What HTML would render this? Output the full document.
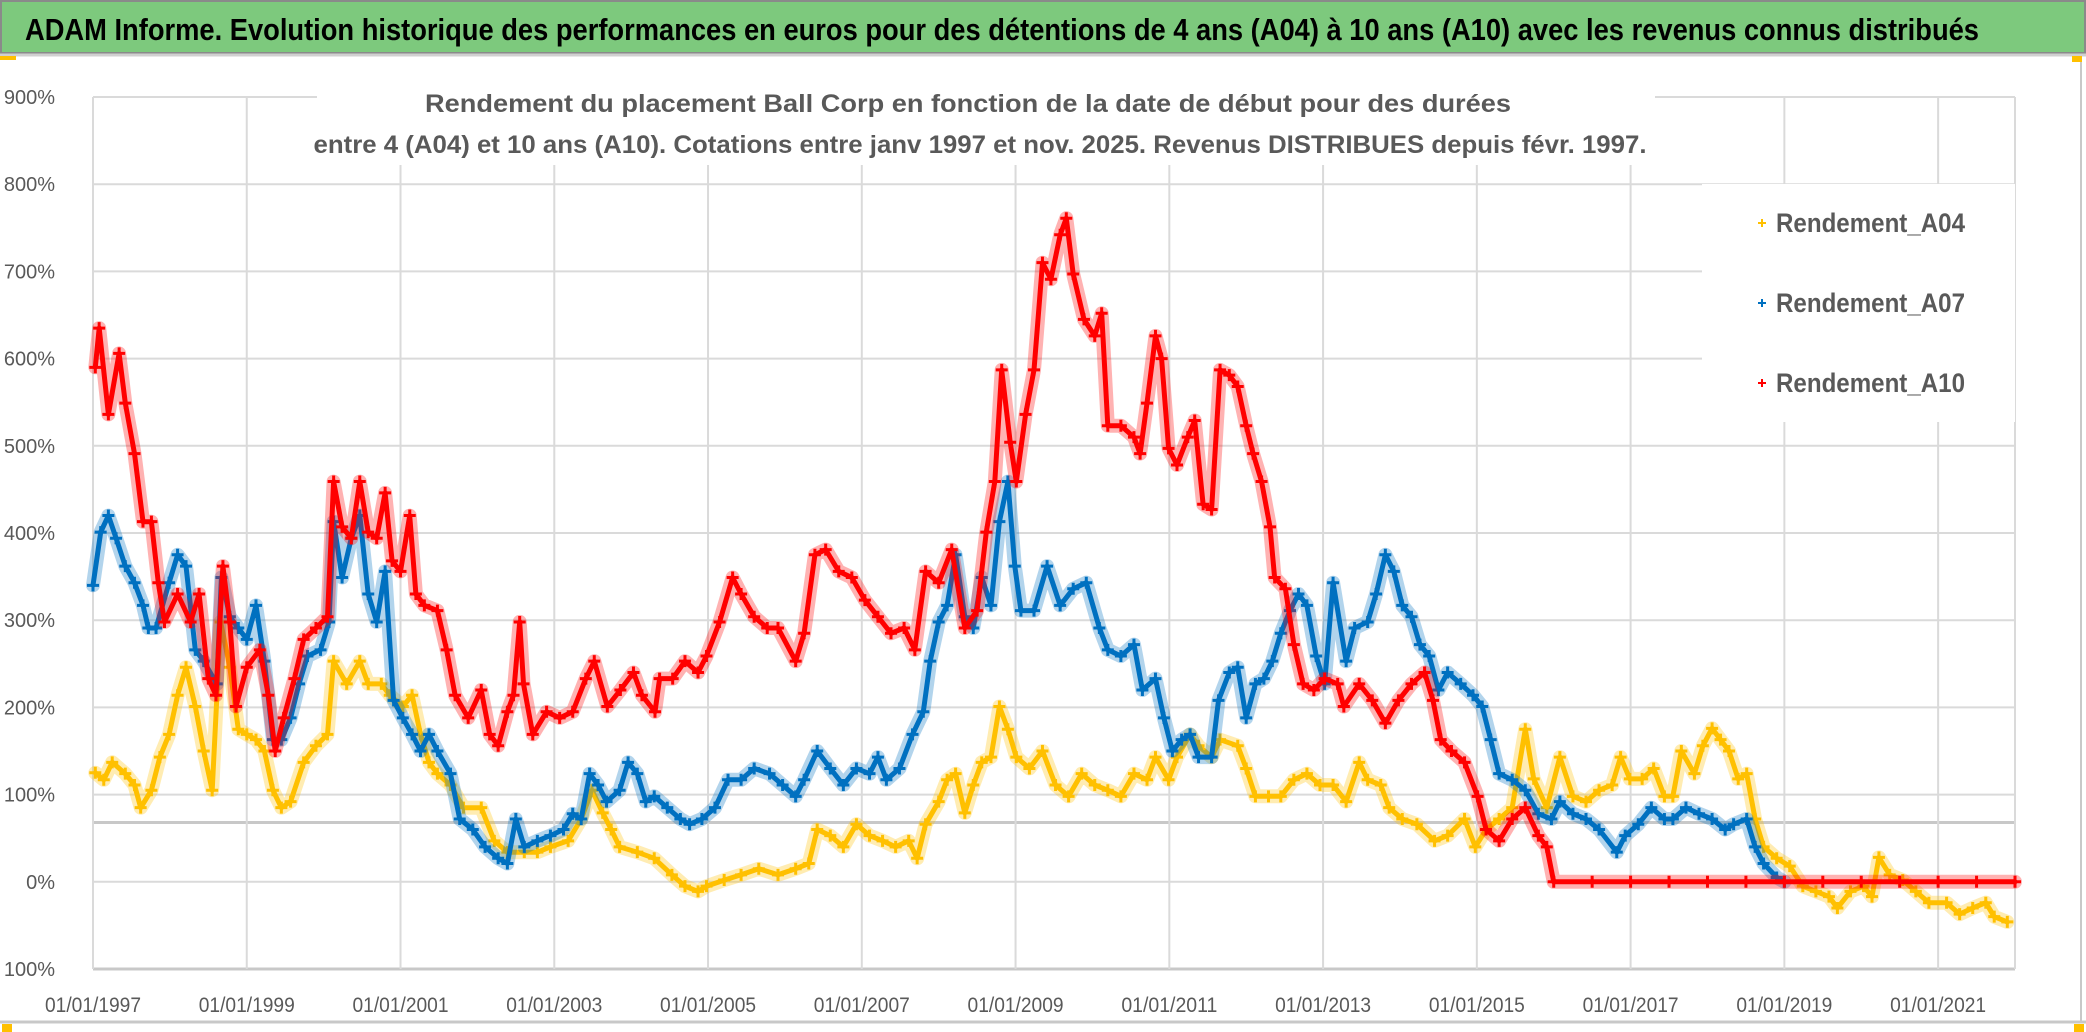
<!DOCTYPE html>
<html><head><meta charset="utf-8"><style>
html,body{margin:0;padding:0;background:#fff;}
svg{display:block;}
</style></head><body>
<svg id="chart" width="2086" height="1032" viewBox="0 0 2086 1032" xmlns="http://www.w3.org/2000/svg">
<rect x="0" y="0" width="2086" height="1032" fill="#fff"/>
<rect x="1" y="1" width="2084" height="52" fill="#7DC97D" stroke="#8a8a8a" stroke-width="2"/>
<text x="25" y="40" font-family="Liberation Sans, sans-serif" font-weight="bold" font-size="31" fill="#000" textLength="1954" lengthAdjust="spacingAndGlyphs">ADAM Informe. Evolution historique des performances en euros pour des détentions de 4 ans (A04) à 10 ans (A10) avec les revenus connus distribués</text>
<line x1="0" y1="55" x2="2086" y2="55" stroke="#d0d0d0" stroke-width="3"/>
<line x1="2081" y1="56" x2="2081" y2="1022" stroke="#c8c8c8" stroke-width="2"/>
<line x1="0" y1="1022" x2="2086" y2="1022" stroke="#c8c8c8" stroke-width="3"/>
<rect x="2072" y="56" width="10" height="6" fill="#FFC000"/>
<rect x="0" y="56" width="16" height="4" fill="#FFC000"/>
<rect x="2" y="1024" width="10" height="8" fill="#FFC000"/>
<rect x="2074" y="1024" width="10" height="8" fill="#FFC000"/>
<g id="grid"></g>
<g id="yaxis"></g>
<g id="xaxis"></g>
<g id="series"></g>
<rect x="317" y="88" width="1338" height="77" fill="#fff"/>
<text x="968" y="112" text-anchor="middle" font-family="Liberation Sans, sans-serif" font-weight="bold" font-size="25" fill="#595959" textLength="1086" lengthAdjust="spacingAndGlyphs">Rendement du placement Ball Corp en fonction de la date de début pour des durées</text>
<text x="980" y="153" text-anchor="middle" font-family="Liberation Sans, sans-serif" font-weight="bold" font-size="25" fill="#595959" textLength="1333" lengthAdjust="spacingAndGlyphs">entre 4 (A04) et 10 ans (A10). Cotations entre janv 1997 et nov. 2025. Revenus DISTRIBUES depuis févr. 1997.</text>
<g id="legend">
<rect x="1702" y="184" width="313" height="238" fill="#fff"/>
</g>
</svg>
<script>
// ---- data ----
const yTicks = [900,800,700,600,500,400,300,200,100,0,-100];
const yTickLabels = ["900%","800%","700%","600%","500%","400%","300%","200%","100%","0%","- 100%"];
const xTickYears = [1997,1999,2001,2003,2005,2007,2009,2011,2013,2015,2017,2019,2021];
const xTickLabels = ["01/01/1997","01/01/1999","01/01/2001","01/01/2003","01/01/2005","01/01/2007","01/01/2009","01/01/2011","01/01/2013","01/01/2015","01/01/2017","01/01/2019","01/01/2021"];
const seriesNames = ["Rendement_A04","Rendement_A07","Rendement_A10"];

const yearsA04 = [1997.03,1997.14,1997.25,1997.42,1997.54,1997.62,1997.76,1997.87,1997.99,1998.1,1998.21,1998.33,1998.44,1998.55,1998.66,1998.78,1998.89,1999.0,1999.12,1999.23,1999.34,1999.45,1999.57,1999.74,1999.9,2000.05,2000.13,2000.3,2000.47,2000.58,2000.75,2000.86,2001.03,2001.15,2001.26,2001.37,2001.48,2001.65,2001.82,2002.05,2002.22,2002.39,2002.61,2002.78,2002.95,2003.18,2003.35,2003.49,2003.63,2003.74,2003.85,2004.08,2004.3,2004.53,2004.7,2004.87,2004.98,2005.21,2005.43,2005.66,2005.91,2006.14,2006.31,2006.42,2006.59,2006.76,2006.93,2007.1,2007.27,2007.44,2007.61,2007.72,2007.83,2008.0,2008.11,2008.22,2008.34,2008.45,2008.56,2008.68,2008.79,2008.9,2009.01,2009.18,2009.35,2009.52,2009.69,2009.86,2010.03,2010.2,2010.37,2010.54,2010.71,2010.82,2010.99,2011.1,2011.27,2011.38,2011.55,2011.66,2011.89,2012.0,2012.12,2012.29,2012.45,2012.62,2012.79,2012.96,2013.13,2013.3,2013.47,2013.58,2013.75,2013.86,2014.03,2014.22,2014.45,2014.62,2014.84,2014.98,2015.12,2015.29,2015.46,2015.63,2015.74,2015.91,2016.08,2016.25,2016.42,2016.59,2016.76,2016.87,2016.99,2017.15,2017.3,2017.44,2017.55,2017.66,2017.83,2017.94,2018.06,2018.17,2018.28,2018.4,2018.51,2018.62,2018.73,2018.9,2019.07,2019.24,2019.41,2019.58,2019.69,2019.86,2020.03,2020.14,2020.23,2020.37,2020.54,2020.71,2020.88,2021.11,2021.28,2021.45,2021.62,2021.73,2021.9];
const valsA04 = [125,117,137,124,111,85,105,143,169,214,246,201,150,105,298,246,175,169,163,150,105,85,92,137,156,169,253,227,253,227,227,214,201,214,169,137,124,111,85,85,47,34,34,34,40,47,72,105,79,60,40,34,27,8,-5,-11,-5,2,8,15,8,15,21,60,53,40,66,53,47,40,47,27,66,92,117,124,79,111,137,143,201,175,143,130,150,111,98,124,111,105,98,124,117,143,117,143,169,156,143,163,156,130,98,98,98,117,124,111,111,92,137,117,111,85,72,66,47,53,72,40,60,72,85,175,118,85,143,98,92,105,111,143,118,118,130,98,98,150,124,156,176,163,150,118,124,72,40,27,18,-5,-11,-17,-30,-11,-5,-17,28,8,2,-11,-24,-24,-37,-30,-24,-40,-46];

const yearsA07 = [1997.0,1997.1,1997.2,1997.3,1997.42,1997.54,1997.65,1997.72,1997.82,1997.99,1998.1,1998.21,1998.33,1998.44,1998.61,1998.67,1998.78,1998.89,1999.0,1999.12,1999.23,1999.34,1999.45,1999.57,1999.68,1999.79,1999.96,2000.07,2000.13,2000.24,2000.36,2000.47,2000.58,2000.69,2000.8,2000.91,2001.03,2001.15,2001.26,2001.37,2001.48,2001.65,2001.77,2001.94,2002.1,2002.27,2002.39,2002.5,2002.61,2002.78,2002.95,2003.12,2003.24,2003.35,2003.46,2003.57,2003.68,2003.85,2003.96,2004.08,2004.19,2004.3,2004.47,2004.64,2004.76,2004.92,2005.09,2005.26,2005.43,2005.6,2005.8,2005.97,2006.14,2006.25,2006.42,2006.59,2006.76,2006.93,2007.1,2007.21,2007.32,2007.49,2007.66,2007.8,2007.89,2008.0,2008.11,2008.22,2008.34,2008.45,2008.56,2008.68,2008.79,2008.9,2008.99,2009.07,2009.24,2009.41,2009.58,2009.75,2009.92,2010.09,2010.2,2010.37,2010.54,2010.65,2010.82,2010.93,2011.04,2011.16,2011.27,2011.38,2011.55,2011.64,2011.78,2011.89,2012.0,2012.12,2012.23,2012.34,2012.45,2012.57,2012.68,2012.79,2012.91,2013.02,2013.13,2013.3,2013.41,2013.58,2013.69,2013.81,2013.92,2014.03,2014.15,2014.26,2014.38,2014.5,2014.62,2014.79,2014.95,2015.07,2015.18,2015.29,2015.46,2015.63,2015.8,2015.97,2016.08,2016.25,2016.42,2016.59,2016.82,2016.93,2017.1,2017.27,2017.44,2017.55,2017.72,2017.89,2018.06,2018.23,2018.34,2018.51,2018.62,2018.73,2018.9,2019.0];
const valsA07 = [340,401,420,394,362,343,317,291,291,343,375,362,266,253,227,349,304,291,278,317,253,163,163,188,227,259,266,298,413,349,394,420,330,298,356,208,188,169,150,169,150,124,72,60,40,27,21,72,40,47,53,60,78,72,124,111,92,105,137,124,92,98,85,72,66,72,85,117,117,130,124,111,98,117,150,130,111,130,124,143,117,130,169,195,253,298,317,375,304,291,349,317,413,459,362,311,311,362,317,336,343,291,266,259,272,220,233,188,150,163,169,143,143,208,240,246,188,227,233,253,285,311,330,317,259,227,343,253,291,298,330,375,356,317,304,272,259,220,240,227,214,201,163,124,117,105,78,72,92,78,72,60,34,53,66,85,72,72,85,78,72,60,66,72,40,21,5,0];

const yearsA10 = [1997.03,1997.08,1997.2,1997.34,1997.42,1997.54,1997.65,1997.76,1997.85,1997.93,1998.1,1998.27,1998.38,1998.5,1998.6,1998.69,1998.78,1998.86,1999.0,1999.17,1999.28,1999.37,1999.48,1999.62,1999.74,1999.9,2000.05,2000.13,2000.24,2000.36,2000.47,2000.58,2000.69,2000.8,2000.89,2001.0,2001.12,2001.2,2001.31,2001.48,2001.6,2001.71,2001.88,2002.05,2002.16,2002.27,2002.39,2002.47,2002.55,2002.6,2002.72,2002.9,2003.07,2003.24,2003.41,2003.52,2003.69,2003.86,2004.03,2004.14,2004.31,2004.37,2004.54,2004.7,2004.87,2004.98,2005.15,2005.32,2005.43,2005.6,2005.77,2005.91,2006.14,2006.25,2006.39,2006.53,2006.7,2006.87,2007.04,2007.21,2007.38,2007.55,2007.69,2007.83,2008.0,2008.17,2008.34,2008.5,2008.62,2008.73,2008.82,2008.93,2009.01,2009.13,2009.24,2009.35,2009.46,2009.58,2009.66,2009.75,2009.89,2010.03,2010.12,2010.2,2010.37,2010.54,2010.62,2010.71,2010.82,2010.9,2010.99,2011.1,2011.24,2011.33,2011.44,2011.55,2011.66,2011.78,2011.89,2012.0,2012.09,2012.2,2012.31,2012.37,2012.51,2012.62,2012.74,2012.88,2013.02,2013.19,2013.27,2013.47,2013.64,2013.81,2013.98,2014.15,2014.32,2014.43,2014.53,2014.67,2014.84,2015.01,2015.12,2015.29,2015.46,2015.63,2015.8,2015.91,2016.0,2016.5,2017.0,2017.5,2018.0,2018.5,2019.0,2019.5,2020.0,2020.5,2021.0,2021.5,2022.0];
const valsA10 = [590,635,536,606,549,491,413,413,343,298,330,298,330,233,214,362,298,201,246,266,214,150,188,233,278,291,304,459,407,394,459,401,394,446,368,356,420,330,317,311,266,214,188,220,169,156,195,214,298,227,169,195,188,195,233,253,201,220,240,214,195,233,233,253,240,259,298,349,330,304,291,291,253,285,375,381,356,349,323,304,285,291,266,356,343,381,291,311,401,459,587,504,459,536,587,710,691,742,761,697,645,626,652,523,523,510,491,549,626,600,497,478,510,529,433,427,587,581,568,523,491,459,407,349,336,272,227,220,233,227,201,227,208,182,208,227,240,208,163,150,137,98,60,47,72,85,53,40,0,0,0,0,0,0,0,0,0,0,0,0,0];

const colors = ["#FFC000","#0070C0","#FF0000"];
const SVGNS = "http://www.w3.org/2000/svg";
const plotLeft = 93, plotRight = 2015, plotTop = 97, plotBottom = 969;
const xMin = 1997, xMax = 2022, yMin = -100, yMax = 900;
function xScale(yr){ return plotLeft + (yr - xMin) / (xMax - xMin) * (plotRight - plotLeft); }
function yScale(v){ return plotBottom - (v - yMin) / (yMax - yMin) * (plotBottom - plotTop); }
function mk(tag, attrs, parent){ const e = document.createElementNS(SVGNS, tag); for (const k in attrs) e.setAttribute(k, attrs[k]); parent.appendChild(e); return e; }

const grid = document.getElementById('grid');
const yaxis = document.getElementById('yaxis');
const xaxis = document.getElementById('xaxis');
yTicks.forEach((v, i) => {
  const y = yScale(v);
  const ln = mk('line', {x1: plotLeft, x2: plotRight, y1: y, y2: y, stroke: v === yMin ? '#c8c8c8' : '#dadada', 'stroke-width': v === yMin ? 3 : 2}, grid);
  
  
  const t = mk('text', {x: 55, y: y + 7, 'text-anchor': 'end', 'font-family': 'Liberation Sans, sans-serif', 'font-size': 20, fill: '#595959'}, yaxis);
  t.textContent = yTickLabels[i];
  
  
});
const refLine = mk('line', {x1: plotLeft, x2: plotRight, y1: yScale(68), y2: yScale(68), stroke: '#c8c8c8', 'stroke-width': 3}, grid);


xTickYears.forEach((yr, i) => {
  const x = xScale(yr);
  const ln = mk('line', {x1: x, x2: x, y1: plotTop, y2: plotBottom, stroke: '#dadada', 'stroke-width': 2}, grid);
  
  
  const t = mk('text', {x: x, y: 1012, 'text-anchor': 'middle', 'font-family': 'Liberation Sans, sans-serif', 'font-size': 21, fill: '#595959', textLength: 96, lengthAdjust: 'spacingAndGlyphs'}, xaxis);
  t.textContent = xTickLabels[i];
  
  
});
const rightLn = mk('line', {x1: plotRight, x2: plotRight, y1: plotTop, y2: plotBottom, stroke: '#dadada', 'stroke-width': 2}, grid);



const seriesLayer = document.getElementById('series');
const allYears = [yearsA04, yearsA07, yearsA10];
const allVals = [valsA04, valsA07, valsA10];
function plus(x, y, s){ return 'M' + (x - s) + ' ' + y + 'H' + (x + s) + 'M' + x + ' ' + (y - s) + 'V' + (y + s); }
allYears.forEach((yrs, si) => {
  const g = mk('g', {}, seriesLayer);
  
  
  const vals = allVals[si];
  let d = '';
  yrs.forEach((yr, i) => { d += (i ? 'L' : 'M') + xScale(yr).toFixed(1) + ' ' + yScale(vals[i]).toFixed(1); });
  const halo = mk('path', {d: d, fill: 'none', stroke: colors[si], 'stroke-opacity': 0.3, 'stroke-width': 14, 'stroke-linejoin': 'round', 'stroke-linecap': 'round'}, g);
  
  
  const band = mk('path', {d: d, fill: 'none', stroke: colors[si], 'stroke-width': 5, 'stroke-linejoin': 'round', 'stroke-linecap': 'round'}, g);
  
  
  let md = '';
  yrs.forEach((yr, i) => { md += plus(xScale(yr), yScale(vals[i]), 6); });
  const marks = mk('path', {d: md, fill: 'none', stroke: colors[si], 'stroke-width': 3}, g);
  
  
});

const legend = document.getElementById('legend');
seriesNames.forEach((n, i) => {
  const y = 232 + i * 80;
  const m = mk('path', {d: plus(1762, y - 9, 4), stroke: colors[i], 'stroke-width': 2, fill: 'none'}, legend);
  
  
  const t = mk('text', {x: 1776, y: y, 'font-family': 'Liberation Sans, sans-serif', 'font-weight': 'bold', 'font-size': 27, fill: '#595959', textLength: 189, lengthAdjust: 'spacingAndGlyphs'}, legend);
  t.textContent = n;
  
  
});
</script>
</body></html>
